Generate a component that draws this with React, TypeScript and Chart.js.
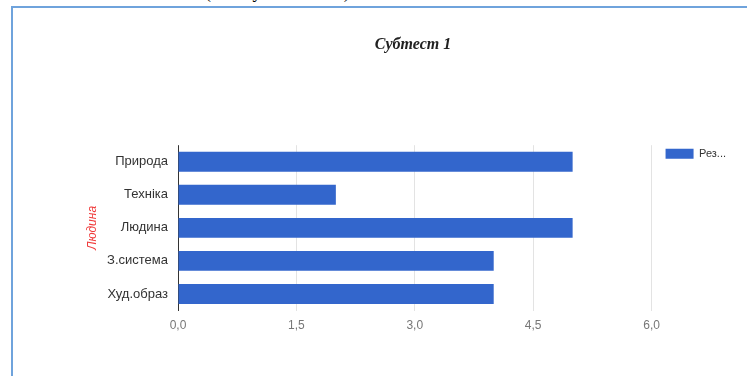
import React, { useEffect, useRef } from "react";
import { Chart, registerables } from "chart.js";

Chart.register(...registerables);

const categories = ["Природа", "Техніка", "Людина", "З.система", "Худ.образ"];
const values = [5, 2, 5, 4, 4];
const seriesLabel = "Рез...";
const chartTitle = "Субтест 1";
const yAxisTitle = "Людина";
const xMin = 0;
const xMax = 6;
const xStep = 1.5;

const placeBlocks = {
  id: "placeBlocks",
  afterLayout(chart: any) {
    const lg = chart.legend;
    if (lg) {
      const h = lg.bottom - lg.top;
      lg.left = chart.chartArea.right + 11;
      lg.right = lg.left + lg.width;
      lg.top = chart.chartArea.top;
      lg.bottom = lg.top + h;
    }
    const tb = chart.titleBlock;
    if (tb) {
      tb.left += 11;
      tb.right += 11;
    }
  },
};

export default function App() {
  const ref = useRef<HTMLCanvasElement | null>(null);
  useEffect(() => {
    if (!ref.current) return;
    const chart = new Chart(ref.current, {
      type: "bar",
      data: {
        labels: categories,
        datasets: [
          {
            label: seriesLabel,
            data: values,
            backgroundColor: "#3366cc",
            borderWidth: 0,
            barPercentage: 0.6,
            categoryPercentage: 1,
          },
        ],
      },
      plugins: [placeBlocks],
      options: {
        indexAxis: "y",
        animation: false,
        responsive: false,
        devicePixelRatio: 1,
        layout: { padding: { left: 67, right: 22, top: 0, bottom: 0 } },
        plugins: {
          tooltip: { enabled: false },
          title: {
            display: true,
            text: chartTitle,
            color: "#222",
            font: { family: "'Liberation Serif', serif", size: 16, weight: "bold", style: "italic", lineHeight: 1.2 },
            padding: { top: 27, bottom: 91 },
          },
          legend: {
            display: true,
            position: "right",
            align: "start",
            labels: {
              boxWidth: 28,
              boxHeight: 10,
              padding: 3,
              color: "#333",
              font: { family: "Arial, 'Liberation Sans', sans-serif", size: 11 },
            },
          },
        },
        scales: {
          x: {
            type: "linear",
            min: xMin,
            max: xMax,
            afterFit(scale: any) {
              scale.height = 65.5;
            },
            ticks: {
              stepSize: xStep,
              padding: 8,
              color: "#777",
              font: { family: "Arial, 'Liberation Sans', sans-serif", size: 12 },
              callback: (v: any) => Number(v).toFixed(1).replace(".", ","),
            },
            grid: {
              drawTicks: false,
              color: (ctx: any) => (ctx.tick && ctx.tick.value === 0 ? "#333" : "#e3e3e3"),
              lineWidth: 1,
            },
            border: { display: false },
          },
          y: {
            type: "category",
            afterFit(scale: any) {
              scale.width = 99;
            },
            ticks: {
              padding: 10,
              color: "#333",
              font: { family: "Arial, 'Liberation Sans', sans-serif", size: 13 },
            },
            grid: { display: false, drawTicks: false },
            border: { display: false },
            title: {
              display: true,
              text: yAxisTitle,
              color: "#f03c3c",
              font: { family: "Arial, 'Liberation Sans', sans-serif", size: 12, style: "italic" },
              padding: { top: 6, bottom: 0 },
            },
          },
        },
      },
    } as any);
    return () => chart.destroy();
  }, []);

  return (
    <div
      style={{
        position: "fixed",
        left: 0,
        top: 0,
        width: 747,
        height: 376,
        background: "#fff",
        overflow: "hidden",
      }}
    >
      <div
        style={{
          position: "absolute",
          left: 205,
          top: -17,
          fontFamily: "'Liberation Serif', serif",
          fontSize: 18,
          lineHeight: "18px",
          letterSpacing: 3.5,
          color: "#000",
          whiteSpace: "nowrap",
        }}
      >
        (Рисунок 2.1)
      </div>
      <div
        style={{
          position: "absolute",
          left: 11,
          top: 6,
          width: 736,
          height: 370,
          borderLeft: "2px solid #6fa3dc",
          borderTop: "2px solid #6fa3dc",
          boxSizing: "border-box",
        }}
      />
      <canvas
        ref={ref}
        width={735}
        height={368}
        style={{ position: "absolute", left: 12, top: 8, width: 735, height: 368 }}
      />
    </div>
  );
}
